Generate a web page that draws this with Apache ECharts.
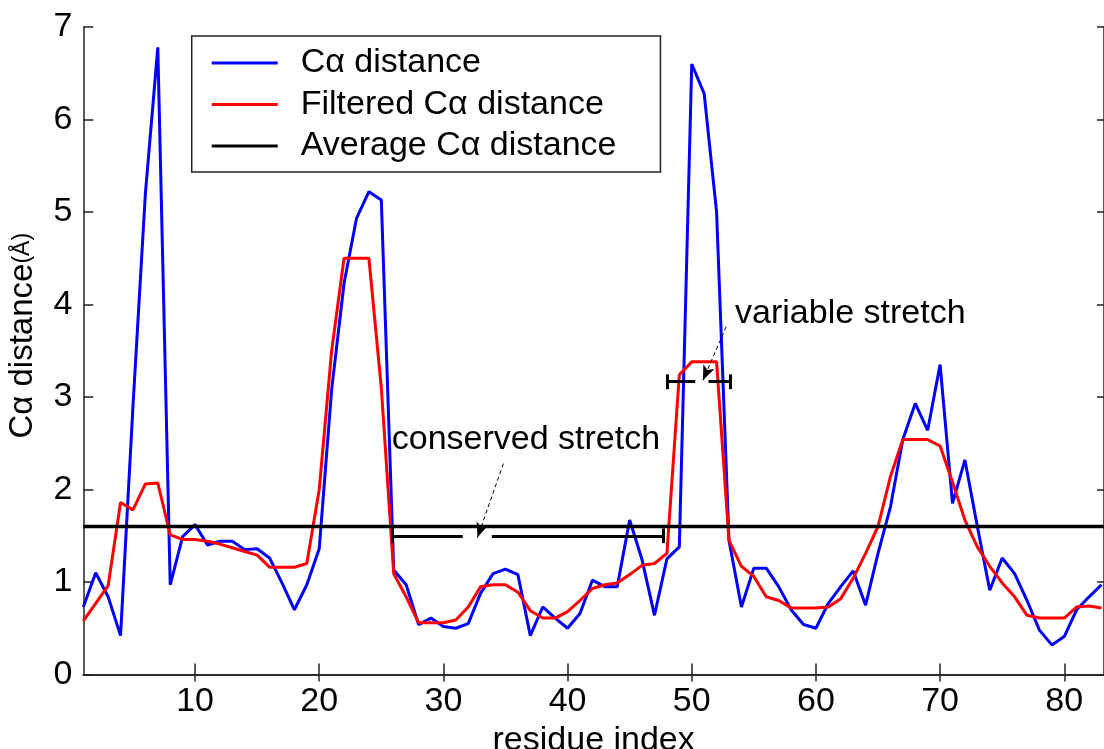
<!DOCTYPE html>
<html>
<head>
<meta charset="utf-8">
<title>C alpha distance</title>
<script src="https://cdn.jsdelivr.net/npm/echarts@6/dist/echarts.min.js"></script>
<style>
  html, body { margin: 0; padding: 0; background: #fff; }
  #caDistance { width: 1104px; height: 749px; }
</style>
</head>
<body>
<div id="caDistance"></div>
<script>
// C-alpha distance per residue (1..83)
const caDistance = [
  0.73, 1.10, 0.84, 0.42, 2.90, 5.20, 6.78, 0.97, 1.49, 1.62,
  1.40, 1.44, 1.44, 1.35, 1.36, 1.26, 0.99, 0.70, 0.97, 1.36,
  3.08, 4.23, 4.93, 5.22, 5.13, 1.13, 0.97, 0.54, 0.61, 0.52,
  0.50, 0.55, 0.88, 1.09, 1.14, 1.08, 0.42, 0.73, 0.61, 0.50,
  0.66, 1.02, 0.95, 0.95, 1.67, 1.24, 0.64, 1.25, 1.38, 6.60,
  6.28, 5.00, 1.45, 0.73, 1.15, 1.15, 0.95, 0.70, 0.54, 0.50,
  0.77, 0.95, 1.12, 0.75, 1.31, 1.81, 2.54, 2.93, 2.64, 3.35,
  1.85, 2.32, 1.60, 0.91, 1.26, 1.09, 0.80, 0.48, 0.32, 0.41,
  0.70, 0.84, 0.97
]
const filteredDistance = [
  0.58, 0.77, 0.96, 1.86, 1.78, 2.06, 2.07, 1.51, 1.46, 1.46,
  1.44, 1.41, 1.37, 1.33, 1.29, 1.16, 1.16, 1.16, 1.20, 2.00,
  3.50, 4.50, 4.50, 4.50, 3.10, 1.09, 0.84, 0.56, 0.56, 0.56,
  0.59, 0.73, 0.95, 0.97, 0.97, 0.89, 0.69, 0.61, 0.61, 0.68,
  0.80, 0.93, 0.97, 0.99, 1.08, 1.18, 1.20, 1.31, 3.24, 3.38,
  3.38, 3.38, 1.45, 1.17, 1.06, 0.84, 0.80, 0.72, 0.72, 0.72,
  0.73, 0.82, 1.04, 1.31, 1.60, 2.14, 2.54, 2.54, 2.54, 2.47,
  2.08, 1.67, 1.38, 1.17, 0.99, 0.84, 0.64, 0.61, 0.61, 0.61,
  0.73, 0.74, 0.72
]
const averageDistance = 1.6
const xTicks = [10, 20, 30, 40, 50, 60, 70, 80]
const xRange = [1, 83.2]
const yRange = [0, 7]

// stretch markers, in residue / distance units
const conservedBar = [25.92, 47.67, 1.5]        // from, to, level
const conservedGap = [31.56, 33.9]
const conservedArrow = [[34.83, 2.28], [32.74, 1.48]]
const conservedText = [25.84, 2.535]
const variableBar = [48.04, 53.09, 3.165]
const variableGap = [50.28, 51.35]
const variableArrow = [[52.77, 3.76], [50.9, 3.18]]
const variableText = [53.49, 3.906]
const capHalf = 0.08

const FONT = '"Liberation Sans", Arial, Helvetica, sans-serif'
const chart = echarts.init(document.getElementById('caDistance'))

const pairs = (vals) => vals.map((v, i) => [i + 1, v])

const barStyle = { color: '#000', width: 3, type: 'solid' }
const arrowStyle = { color: '#000', width: 1, type: [4, 3] }

function seg (a, b, style) {
  return [
    { coord: a, symbol: 'none', lineStyle: style },
    { coord: b, symbol: 'none', lineStyle: style }
  ]
}
function bracket (bar, gap) {
  const [x0, x1, y] = bar
  return [
    seg([x0, y], [gap[0], y], barStyle),
    seg([gap[1], y], [x1, y], barStyle),
    seg([x0, y - capHalf], [x0, y + capHalf], barStyle),
    seg([x1, y - capHalf], [x1, y + capHalf], barStyle)
  ]
}
function arrow (a) {
  return [
    { coord: a[0], symbol: 'none', lineStyle: arrowStyle },
    { coord: a[1], symbol: 'arrow', symbolSize: [9, 15], lineStyle: arrowStyle }
  ]
}

const noteLabel = {
  show: true,
  position: 'right',
  distance: 0,
  formatter: '{b}',
  fontSize: 34,
  color: '#000',
  opacity: 1,
  fontFamily: FONT
}

const option = {
  animation: false,
  backgroundColor: '#fff',
  textStyle: { fontFamily: FONT },
  grid: { left: 83.3, right: 0, top: 27, bottom: 74.5, containLabel: false, outerBoundsMode: 'none' },
  legend: {
    orient: 'vertical',
    left: 191.7,
    top: 36,
    data: ['Cα distance', 'Filtered Cα distance', 'Average Cα distance'],
    icon: 'rect',
    itemWidth: 66,
    itemHeight: 3,
    itemGap: 7.5,
    padding: [10, 44, 9, 20],
    borderColor: '#222',
    borderWidth: 1.5,
    backgroundColor: '#fff',
    selectedMode: false,
    textStyle: { fontSize: 34, color: '#000', fontFamily: FONT, lineHeight: 34, padding: [0, 0, 0, 18] }
  },
  xAxis: [
    {
      type: 'value',
      min: xRange[0],
      max: xRange[1],
      name: 'residue index',
      nameLocation: 'middle',
      nameGap: 44,
      nameTextStyle: { fontSize: 34, color: '#000', fontFamily: FONT },
      axisLine: { lineStyle: { color: '#222', width: 1.5 } },
      axisTick: { inside: true, length: 11, customValues: xTicks, lineStyle: { color: '#222', width: 1.5 } },
      axisLabel: { customValues: xTicks, fontSize: 34, color: '#000', margin: 10, fontFamily: FONT },
      splitLine: { show: false }
    },
    {
      type: 'value',
      position: 'top',
      min: xRange[0],
      max: xRange[1],
      axisLine: { lineStyle: { color: '#222', width: 1.5 } },
      axisTick: { inside: true, length: 7, customValues: xTicks, lineStyle: { color: '#222', width: 1.5 } },
      axisLabel: { show: false },
      splitLine: { show: false }
    }
  ],
  yAxis: [
    {
      type: 'value',
      min: yRange[0],
      max: yRange[1],
      interval: 1,
      name: '{a|Cα distance}{b|(Å)}',
      nameLocation: 'middle',
      nameGap: 44,
      nameTextStyle: {
        color: '#000',
        padding: [0, 0, 0, 30],
        rich: {
          a: { fontSize: 33, fontFamily: FONT, color: '#000' },
          b: { fontSize: 23, fontFamily: FONT, color: '#000' }
        }
      },
      axisLine: { show: true, lineStyle: { color: '#222', width: 1.5 } },
      axisTick: { show: true, inside: true, length: 10, lineStyle: { color: '#222', width: 1.5 } },
      axisLabel: { fontSize: 34, color: '#000', margin: 11, fontFamily: FONT },
      splitLine: { show: false }
    },
    {
      type: 'value',
      position: 'right',
      min: yRange[0],
      max: yRange[1],
      interval: 1,
      axisLine: { show: true, lineStyle: { color: '#222', width: 1.5 } },
      axisTick: { show: true, inside: true, length: 7, lineStyle: { color: '#222', width: 1.5 } },
      axisLabel: { show: false },
      splitLine: { show: false }
    }
  ],
  series: [
    {
      name: 'Cα distance',
      type: 'line',
      data: pairs(caDistance),
      symbol: 'none',
      lineStyle: { color: '#0000ff', width: 3 },
      itemStyle: { color: '#0000ff' }
    },
    {
      name: 'Filtered Cα distance',
      type: 'line',
      data: pairs(filteredDistance),
      symbol: 'none',
      lineStyle: { color: '#ff0000', width: 3 },
      itemStyle: { color: '#ff0000' }
    },
    {
      name: 'Average Cα distance',
      type: 'line',
      data: [[xRange[0], averageDistance], [xRange[1], averageDistance]],
      symbol: 'none',
      lineStyle: { color: '#000', width: 3.5 },
      itemStyle: { color: '#000' }
    },
    {
      // conserved / variable stretch markers and their captions
      name: 'stretches',
      type: 'line',
      data: [],
      silent: true,
      markLine: {
        silent: true,
        animation: false,
        label: { show: false },
        emphasis: { disabled: true },
        data: [
          ...bracket(conservedBar, conservedGap),
          ...bracket(variableBar, variableGap),
          arrow(conservedArrow),
          arrow(variableArrow)
        ]
      },
      markPoint: {
        silent: true,
        animation: false,
        symbol: 'circle',
        symbolSize: 0,
        itemStyle: { color: '#000' },
        label: noteLabel,
        emphasis: { disabled: true },
        data: [
          { name: 'conserved stretch', coord: conservedText },
          { name: 'variable stretch', coord: variableText }
        ]
      }
    }
  ]
}

chart.setOption(option)
</script>
</body>
</html>
